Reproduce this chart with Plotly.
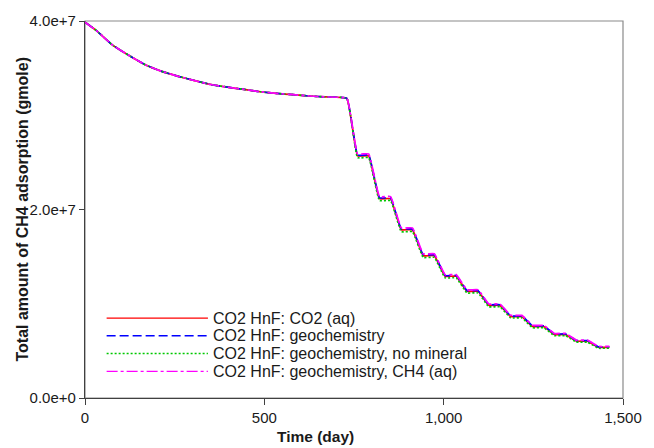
import plotly.graph_objects as go

# ---- data ----
decay_days = [0, 31, 77, 123, 168, 214, 260, 306, 351, 397, 443, 489, 534, 580, 626, 672, 730]
decay_vals = [39.88e6, 39.01e6, 37.44e6, 36.33e6, 35.35e6, 34.65e6, 34.13e6, 33.68e6, 33.26e6,
              32.98e6, 32.74e6, 32.49e6, 32.32e6, 32.18e6, 32.04e6, 31.94e6, 31.80e6]

# each cycle: drop ends, plateau ends
step_days = [760, 791, 821, 852, 882, 913, 943, 974, 1004, 1035, 1065, 1096,
             1126, 1157, 1187, 1218, 1248, 1279, 1309, 1340, 1370, 1401, 1431, 1462]

plateau_co2aq = [25.70e6, 21.15e6, 17.85e6, 15.10e6, 12.92e6, 11.32e6, 9.83e6, 8.63e6, 7.58e6, 6.73e6, 6.03e6, 5.38e6]
plateau_geo = [25.77e6, 21.24e6, 17.93e6, 15.19e6, 12.99e6, 11.39e6, 9.90e6, 8.70e6, 7.65e6, 6.79e6, 6.09e6, 5.43e6]
plateau_geo_nomin = [25.50e6, 20.95e6, 17.65e6, 14.92e6, 12.75e6, 11.15e6, 9.68e6, 8.50e6, 7.46e6, 6.62e6, 5.93e6, 5.29e6]
plateau_geo_ch4 = [25.90e6, 21.37e6, 18.05e6, 15.30e6, 13.09e6, 11.48e6, 9.98e6, 8.77e6, 7.71e6, 6.85e6, 6.14e6, 5.48e6]

names = ["CO2 HnF: CO2 (aq)", "CO2 HnF: geochemistry",
         "CO2 HnF: geochemistry, no mineral", "CO2 HnF: geochemistry, CH4 (aq)"]
colors = ["#ff0000", "#0000ff", "#00c800", "#ff00ff"]
dashes = ["solid", "9px,4px", "2px,2px", "11px,3px,3px,3px"]
plateaus = [plateau_co2aq, plateau_geo, plateau_geo_nomin, plateau_geo_ch4]

x_ticks = [0, 500, 1000, 1500]
x_ticktext = ["0", "500", "1,000", "1,500"]
y_ticks = [0, 2e7, 4e7]
y_ticktext = ["0.0e+0", "2.0e+7", "4.0e+7"]

FONT = "Liberation Sans, Arial, sans-serif"

fig = go.Figure()
days = decay_days + step_days
for name, col, dash, pl in zip(names, colors, dashes, plateaus):
    vals = list(decay_vals)
    for v in pl:
        vals += [v, v]
    fig.add_trace(go.Scatter(x=days, y=vals, mode="lines", name=name,
                             line=dict(color=col, width=1.7, dash=dash, shape="spline", smoothing=0.3),
                             showlegend=False))

# plot frame (top/right lighter)
fig.add_shape(type="rect", xref="paper", yref="paper", x0=0, x1=1, y0=0, y1=1,
              line=dict(color="#8a8a8a", width=1.2), layer="below")

# custom legend with long line samples
leg_y = [0.212, 0.165, 0.118, 0.0707]
for name, col, dash, ly in zip(names, colors, dashes, leg_y):
    fig.add_shape(type="line", xref="paper", yref="paper", x0=0.0402, x1=0.2285, y0=ly, y1=ly,
                  line=dict(color=col, width=1.4, dash=dash))
    fig.add_annotation(xref="paper", yref="paper", x=0.234, y=ly, text=name, showarrow=False,
                       xanchor="left", yanchor="middle",
                       font=dict(family=FONT, size=16, color="#1a1a1a"))

# axis titles
fig.add_annotation(xref="paper", yref="paper", x=0.428, y=-0.102, text="<b>Time (day)</b>",
                   showarrow=False, xanchor="center", yanchor="middle",
                   font=dict(family=FONT, size=15.5, color="#1a1a1a"))
fig.add_annotation(xref="paper", yref="paper", x=-0.117, y=0.5,
                   text="<b>Total amount of CH4 adsorption (gmole)</b>", textangle=-90,
                   showarrow=False, xanchor="center", yanchor="middle",
                   font=dict(family=FONT, size=16, color="#1a1a1a"))

fig.update_layout(
    width=654, height=448,
    margin=dict(l=85, r=22, t=16, b=50),
    paper_bgcolor="white", plot_bgcolor="white",
    font=dict(family=FONT, size=15, color="#1a1a1a"),
    xaxis=dict(range=[0, 1500], tickvals=x_ticks, ticktext=x_ticktext,
               showgrid=False, zeroline=False, showline=True, linecolor="#404040", linewidth=1.2,
               ticks="outside", ticklen=6, tickcolor="#404040", tickwidth=1.2,
               tickfont=dict(family=FONT, size=15, color="#1a1a1a")),
    yaxis=dict(range=[0, 4e7], tickvals=y_ticks, ticktext=y_ticktext,
               showgrid=False, zeroline=False, showline=True, linecolor="#404040", linewidth=1.2,
               ticks="outside", ticklen=5, tickcolor="#404040", tickwidth=1.2,
               tickfont=dict(family=FONT, size=15, color="#1a1a1a")),
)

fig.write_html("out.html")
